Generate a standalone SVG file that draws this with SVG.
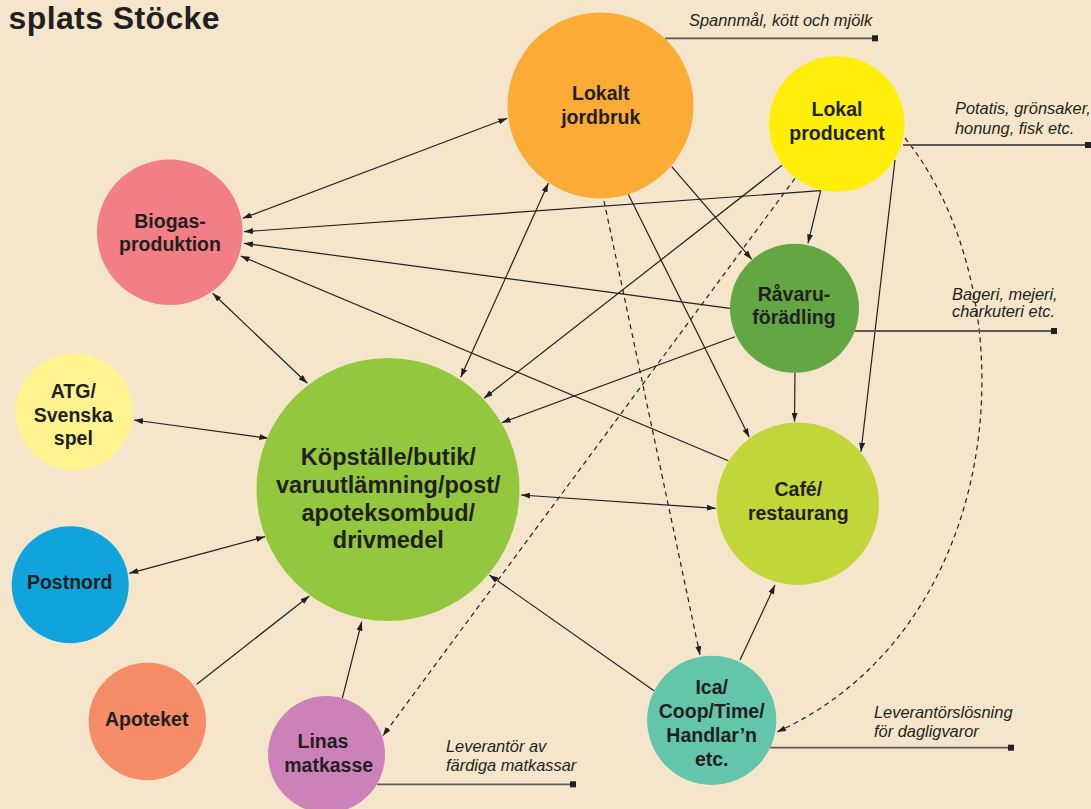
<svg xmlns="http://www.w3.org/2000/svg" width="1091" height="809" viewBox="0 0 1091 809">
<defs>
<marker id="ah" viewBox="0 0 9 6" refX="9" refY="3" markerWidth="9" markerHeight="6" markerUnits="userSpaceOnUse" orient="auto-start-reverse">
<path d="M0,0 L9,3 L0,6 z" fill="#231f20"/>
</marker>
</defs>
<style>
.bg{fill:#f5e6cb}
.c{stroke:#231f20;stroke-width:1.2;fill:none}
.d{stroke-dasharray:5 4}
.e{marker-end:url(#ah)}
.b{marker-start:url(#ah);marker-end:url(#ah)}
.lead{stroke:#5e5a56;stroke-width:1.8;fill:none}
.sq{fill:#231f20}
.t{font-family:"Liberation Sans",Arial,Helvetica,sans-serif;font-weight:bold;font-size:19.5px;fill:#231f20;text-anchor:middle}
.tb{font-size:23.5px}
.a{font-family:"Liberation Sans",Arial,Helvetica,sans-serif;font-style:italic;font-size:16.4px;fill:#231f20}
.title{font-family:"Liberation Sans",Arial,Helvetica,sans-serif;font-weight:bold;font-size:32px;letter-spacing:0.4px;fill:#231f20;text-anchor:end}
</style>
<rect class="bg" x="0" y="0" width="1091" height="809"/>
<text class="title" x="220" y="29">splats Stöcke</text>

<g id="connectors">
<path class="c b" d="M242.7,218.3 L507.3,118.3"/>
<path class="c e" d="M820.7,190.7 L244,231.7"/>
<path class="c e" d="M820.7,190.7 L808,243.3"/>
<path class="c e" d="M730,308.3 L244,243.3"/>
<path class="c e" d="M728.3,460.7 L240.7,256"/>
<path class="c b" d="M212.7,293.3 L307.3,383.3"/>
<path class="c b" d="M460.7,377.3 L548.3,183.3"/>
<path class="c e" d="M782,165.3 L484,398.3"/>
<path class="c e" d="M735,336.7 L501.7,422.7"/>
<path class="c e" d="M671.7,166.7 L751.7,259.3"/>
<path class="c e" d="M628.3,194.3 L749.3,437.3"/>
<path class="c d e" d="M604,201 L700,655"/>
<path class="c d e" d="M795,178.3 L382.7,736"/>
<path class="c d e" d="M905,138 C1032,296 1010,626 777,732"/>
<path class="c e" d="M895,160 L861,451.7"/>
<path class="c e" d="M795,372.7 L794.5,421.7"/>
<path class="c b" d="M521,495 L715.7,508.3"/>
<path class="c e" d="M654,690.7 L489.3,575"/>
<path class="c e" d="M740,660 L775,585"/>
<path class="c b" d="M134,420 L268.3,438.3"/>
<path class="c b" d="M129.3,573.3 L265,536.7"/>
<path class="c e" d="M196.7,684.3 L309.3,596"/>
<path class="c e" d="M342.3,698.3 L361.7,621.7"/>
</g>

<g id="annotations">
<path class="lead" d="M665,38.3 H875"/><rect class="sq" x="872" y="35.3" width="6" height="6"/>
<text class="a" x="689" y="26">Spannmål, kött och mjölk</text>
<path class="lead" d="M903,145 H1088"/><rect class="sq" x="1085" y="142" width="6" height="6"/>
<text class="a" x="955" y="114">Potatis, grönsaker,</text>
<text class="a" x="955" y="133.7">honung, fisk etc.</text>
<path class="lead" d="M855,331 H1054"/><rect class="sq" x="1051" y="328" width="6" height="6"/>
<text class="a" x="952" y="300">Bageri, mejeri,</text>
<text class="a" x="952" y="317.3">charkuteri etc.</text>
<path class="lead" d="M377,784.3 H573"/><rect class="sq" x="570" y="781.3" width="6" height="6"/>
<text class="a" x="446" y="752.3">Leverantör av</text>
<text class="a" x="446" y="771">färdiga matkassar</text>
<path class="lead" d="M770,747.7 H1011"/><rect class="sq" x="1008" y="744.7" width="6" height="6"/>
<text class="a" x="874" y="717.7">Leverantörslösning</text>
<text class="a" x="874" y="737.3">för dagligvaror</text>
</g>

<g id="lokalt-jordbruk"><circle cx="600.5" cy="105.5" r="93" fill="#fbab36"/><text class="t" x="600.7" y="100">Lokalt</text><text class="t" x="600.7" y="124">jordbruk</text></g>
<g id="lokal-producent"><circle cx="836.7" cy="124" r="67.8" fill="#ffee0a"/><text class="t" x="837" y="116">Lokal</text><text class="t" x="837" y="140">producent</text></g>
<g id="biogas"><circle cx="169.8" cy="232.3" r="72.8" fill="#f27e86"/><text class="t" x="170" y="227.7">Biogas-</text><text class="t" x="170" y="250.5">produktion</text></g>
<g id="ravaruforadling"><circle cx="794.5" cy="308.3" r="64.5" fill="#62a744"/><text class="t" x="794" y="301">Råvaru-</text><text class="t" x="794" y="324.3">förädling</text></g>
<g id="atg"><circle cx="74.2" cy="411.7" r="58.5" fill="#fff38f"/><text class="t" x="73.3" y="397.7">ATG/</text><text class="t" x="73.3" y="421.7">Svenska</text><text class="t" x="73.3" y="445.3">spel</text></g>
<g id="kopstalle"><circle cx="388" cy="489.5" r="131.5" fill="#93c73d"/><text class="t tb" x="388.3" y="465">Köpställe/butik/</text><text class="t tb" x="388.3" y="492.7">varuutlämning/post/</text><text class="t tb" x="388.3" y="521">apoteksombud/</text><text class="t tb" x="388.3" y="548.3">drivmedel</text></g>
<g id="cafe"><circle cx="797.8" cy="503.7" r="81.2" fill="#c1d638"/><text class="t" x="798.3" y="496">Café/</text><text class="t" x="798.3" y="520">restaurang</text></g>
<g id="postnord"><circle cx="70.2" cy="584.7" r="58.5" fill="#11a3db"/><text class="t" x="69.7" y="589.3">Postnord</text></g>
<g id="apoteket"><circle cx="147.3" cy="721.5" r="58.7" fill="#f58b67"/><text class="t" x="146.7" y="726">Apoteket</text></g>
<g id="linas"><circle cx="326.5" cy="754.5" r="58.5" fill="#cc82b8"/><text class="t" x="323" y="747.7">Linas</text><text class="t" x="328.7" y="772">matkasse</text></g>
<g id="ica"><circle cx="711.7" cy="720.3" r="64.6" fill="#63c5a9"/><text class="t" x="711.7" y="694">Ica/</text><text class="t" x="711.7" y="717.7">Coop/Time/</text><text class="t" x="711.7" y="742">Handlar’n</text><text class="t" x="711.7" y="765.7">etc.</text></g>
</svg>
